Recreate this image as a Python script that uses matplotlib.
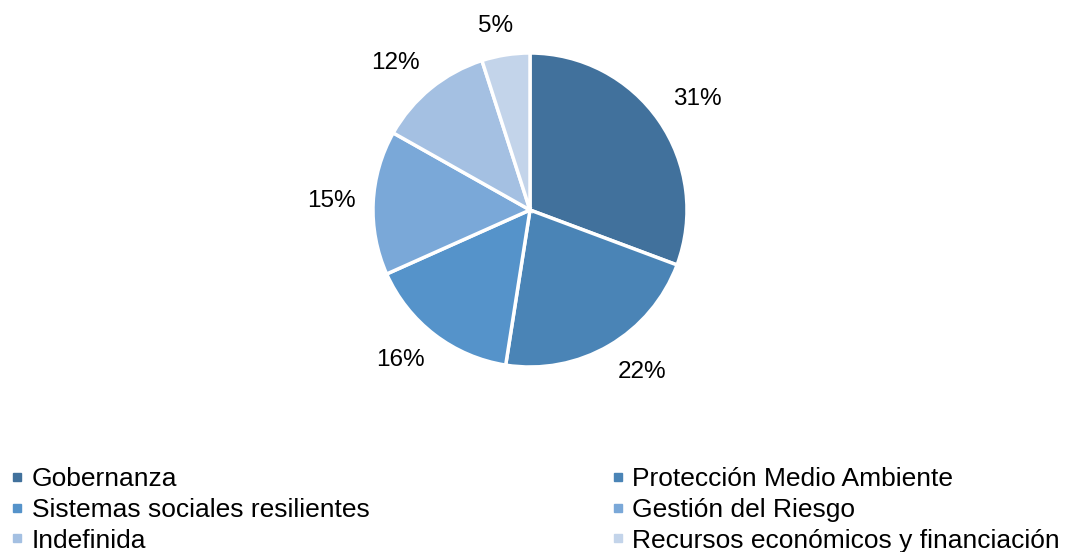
import matplotlib
matplotlib.use("Agg")
import matplotlib.pyplot as plt
from matplotlib.lines import Line2D
import numpy as np

plt.rcParams['font.family'] = ['Liberation Sans', 'DejaVu Sans']

categorias = ["Gobernanza", "Protección Medio Ambiente", "Sistemas sociales resilientes",
              "Gestión del Riesgo", "Indefinida", "Recursos económicos y financiación"]
porcentajes = [31, 22, 16, 15, 12, 5]
colores = ["#41719C", "#4A84B6", "#5593CA", "#7AA8D8", "#A4C0E2", "#C3D4EA"]

fig = plt.figure(figsize=(10.65, 5.52), dpi=100)
# ejes del pastel: centro (530, 210) px, radio ~157 px
ax = fig.add_axes([373 / 1065, 185 / 552, 314 / 1065, 314 / 552])

etiquetas = iter([f"{p}%" for p in porcentajes])
wedges, textos, pct = ax.pie(porcentajes, colors=colores, startangle=90, counterclock=False,
                             autopct=lambda v: next(etiquetas), pctdistance=1.27,
                             wedgeprops=dict(edgecolor="white", linewidth=2.5),
                             textprops=dict(fontsize=17.5, color="black"))

# etiquetas fuera del borde, como en Excel (caja pegada al arco)
for w, t in zip(wedges, pct):
    ang = np.deg2rad((w.theta1 + w.theta2) / 2)
    c, s = np.cos(ang), np.sin(ang)
    x = 1.11 * c + 0.153 * np.clip(2 * c, -1, 1)
    y = 1.11 * s + 0.076 * np.clip(2 * s, -1, 1)
    t.set_position((x, y))

ax.set_xlim(-1, 1)
ax.set_ylim(-1, 1)
ax.set_aspect("equal")

# leyenda por filas (2 columnas)
orden = [0, 2, 4, 1, 3, 5]
handles = [Line2D([], [], marker="s", linestyle="none", markersize=6,
                  markerfacecolor=colores[i], markeredgecolor=colores[i]) for i in orden]
fig.legend(handles, [categorias[i] for i in orden], ncol=2, loc="upper left",
           bbox_to_anchor=(12 / 1065, 1 - 467 / 552), frameon=False, fontsize=19,
           handlelength=0.4, handletextpad=0.34, columnspacing=9.22,
           labelspacing=0.26, borderpad=0, borderaxespad=0)

fig.savefig("out.png", dpi=100)
